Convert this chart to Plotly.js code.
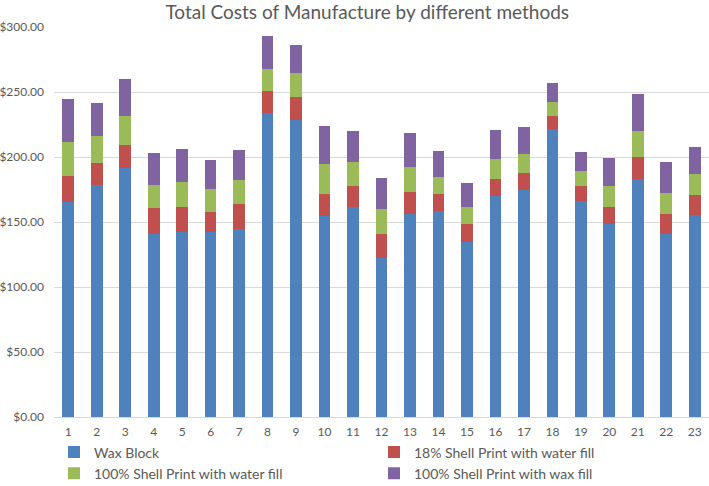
<!DOCTYPE html>
<html>
<head>
<meta charset="utf-8">
<script src="https://cdn.plot.ly/plotly-3.0.1.min.js"></script>
<style>
  html, body { margin: 0; padding: 0; background: #fff; }
  #chart { width: 709px; height: 486px; }
</style>
</head>
<body>
<div id="chart"></div>
<script>
// sample numbers 1..23
var samples = ['1', '2', '3', '4', '5', '6', '7', '8', '9', '10', '11', '12',
               '13', '14', '15', '16', '17', '18', '19', '20', '21', '22', '23'];

// cost segments per method (stacked), in $
var waxBlock = [165.6, 178.5, 191.8, 141.0, 142.3, 142.3, 144.4, 233.6, 228.2, 155.0, 161.2, 122.0,
                156.2, 158.2, 134.3, 170.2, 174.6, 221.3, 165.9, 148.7, 183.3, 141.0, 155.6];
var shell18Water = [20.0, 17.1, 17.4, 19.5, 19.5, 15.4, 19.4, 16.9, 18.2, 16.6, 16.8, 19.0,
                    17.1, 13.1, 14.4, 13.1, 13.4, 10.5, 11.6, 13.1, 16.5, 15.2, 15.2];
var shell100Water = [25.9, 20.6, 22.6, 18.0, 19.2, 17.4, 18.5, 17.2, 18.0, 23.0, 18.4, 18.7,
                     18.8, 13.6, 13.1, 15.4, 14.6, 10.3, 11.5, 16.2, 19.9, 16.4, 16.1];
var shell100Wax = [32.9, 25.1, 28.0, 24.6, 25.2, 22.3, 23.3, 25.6, 21.5, 29.2, 23.9, 24.4,
                   26.1, 19.7, 18.2, 22.1, 20.2, 15.1, 14.6, 21.5, 28.5, 23.8, 20.8];

var seriesNames = ['Wax Block', '18% Shell Print with water fill',
                   '100% Shell Print with water fill', '100% Shell Print with wax fill'];

const colours = {
    wax   : '#4f81bd',
    s18   : '#c0504d',
    s100  : '#9bbb59',
    sWax  : '#8064a2'
};

function barTrace(values, name, colour) {
    return {
        x: samples,
        y: values,
        type: 'bar',
        name: name,
        marker: { color: colour, line: { width: 0 } },
        hoverinfo: 'x+y+name'
    };
}

var data = [
    barTrace(waxBlock, seriesNames[0], colours.wax),
    barTrace(shell18Water, seriesNames[1], colours.s18),
    barTrace(shell100Water, seriesNames[2], colours.s100),
    barTrace(shell100Wax, seriesNames[3], colours.sWax)
];

var textColour = '#595959';

var layout = {
    width: 709,
    height: 486,
    margin: { l: 54, r: 0, t: 27, b: 69, autoexpand: false },
    paper_bgcolor: '#fff',
    plot_bgcolor: '#fff',
    font: { family: 'Lato, "Open Sans", sans-serif', color: textColour, size: 12 },
    title: {
        text: 'Total Costs of Manufacture by different methods',
        font: { size: 19, color: textColour },
        x: 0.518,
        xanchor: 'center',
        y: 0.975,
        yanchor: 'middle'
    },
    barmode: 'stack',
    bargap: 0.59,
    showlegend: true,
    legend: {
        orientation: 'h',
        traceorder: 'normal',
        x: 0.0,
        xanchor: 'left',
        y: -0.05,
        yanchor: 'top',
        entrywidth: 275,
        entrywidthmode: 'pixels',
        itemwidth: 30,
        tracegroupgap: 0,
        font: { size: 14, color: textColour }
    },
    xaxis: {
        type: 'category',
        showgrid: false,
        showline: true,
        linecolor: '#d9d9d9',
        linewidth: 1,
        ticks: '',
        ticklabelstandoff: 4,
        tickfont: { size: 12, color: textColour },
        fixedrange: true
    },
    yaxis: {
        range: [0, 300],
        dtick: 50,
        tickformat: '$,.2f',
        showgrid: true,
        gridcolor: '#d9d9d9',
        gridwidth: 1,
        zeroline: false,
        showline: false,
        ticks: '',
        ticklabelstandoff: 9,
        tickfont: { size: 12, color: textColour },
        fixedrange: true
    }
};

Plotly.newPlot('chart', data, layout, { displayModeBar: false, staticPlot: true });
</script>
</body>
</html>
